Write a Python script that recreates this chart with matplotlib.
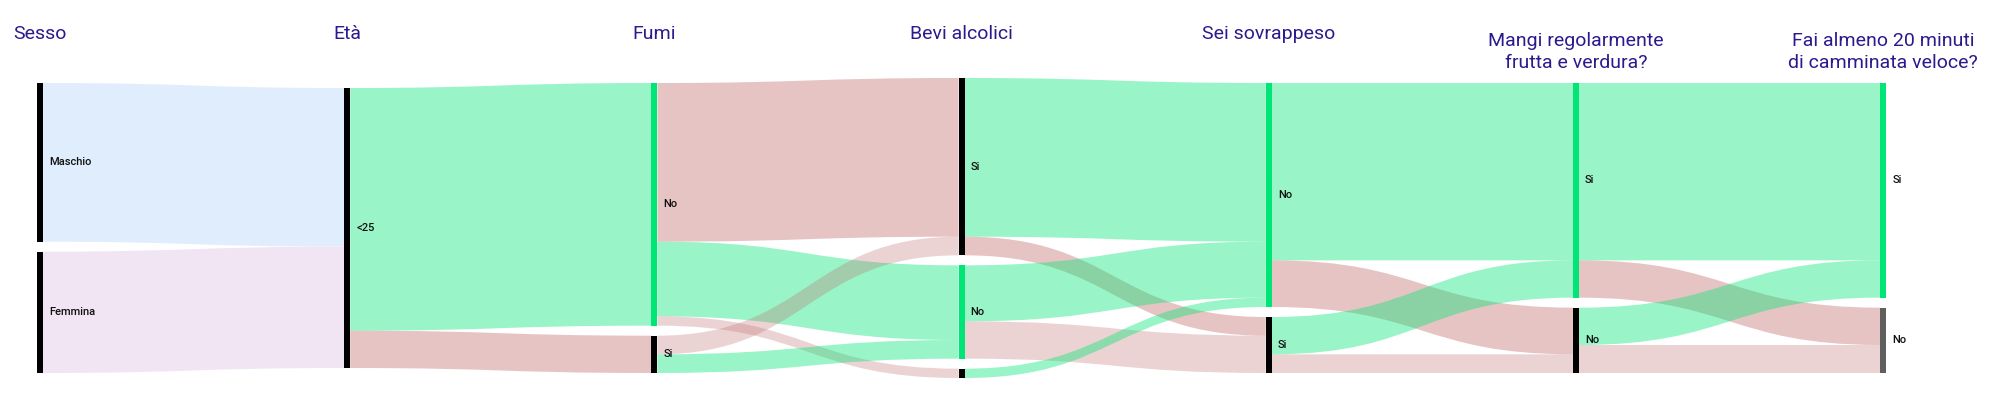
import numpy
from matplotlib import pyplot
from matplotlib.path import Path
from matplotlib.patches import PathPatch, Rectangle

# Column titles
titles = [
    "Sesso",
    "Età",
    "Fumi",
    "Bevi alcolici",
    "Sei sovrappeso",
    "Mangi regolarmente\nfrutta e verdura?",
    "Fai almeno 20 minuti\ndi camminata veloce?",
]

# Node labels for each column (top to bottom)
sesso = ["Maschio", "Femmina"]
eta = ["<25"]
fumi = ["No", "Si"]
bevi = ["Si", "No", ""]
sovrappeso = ["No", "Si"]
frutta = ["Si", "No"]
camminata = ["Si", "No"]
columns = [sesso, eta, fumi, bevi, sovrappeso, frutta, camminata]

# Node colours
node_colours = [
    ["black", "black"],
    ["black"],
    ["green", "black"],
    ["black", "green", "black"],
    ["green", "black"],
    ["green", "black"],
    ["green", "grey"],
]

# Flows between consecutive columns: rows = source nodes, cols = target nodes
sesso_eta = [[17], [13]]
eta_fumi = [[26, 4]]
fumi_bevi = [[17, 8, 1], [2, 2, 0]]
bevi_sovrappeso = [[17, 2], [6, 4], [1, 0]]
sovrappeso_frutta = [[19, 5], [4, 2]]
frutta_camminata = [[19, 4], [4, 3]]
flows = [sesso_eta, eta_fumi, fumi_bevi, bevi_sovrappeso, sovrappeso_frutta, frutta_camminata]

# Flow colour kinds, same shape as flows
sesso_eta_c = [["blue"], ["lilac"]]
eta_fumi_c = [["green", "red"]]
fumi_bevi_c = [["red", "green", "pink"], ["pink", "green", "pink"]]
bevi_sovrappeso_c = [["green", "red"], ["green", "pink"], ["green", "pink"]]
sovrappeso_frutta_c = [["green", "red"], ["green", "pink"]]
frutta_camminata_c = [["green", "red"], ["green", "pink"]]
flow_colours = [sesso_eta_c, eta_fumi_c, fumi_bevi_c, bevi_sovrappeso_c,
                sovrappeso_frutta_c, frutta_camminata_c]

palette = {
    "black": "#000000",
    "green": "#00e676",
    "grey": "#5f5f5f",
}
link_palette = {
    "blue": ("#e0edfc", 1.0),
    "lilac": ("#f1e5f4", 1.0),
    "green": ("#00e676", 0.40),
    "red": ("#be6464", 0.38),
    "pink": ("#be6464", 0.28),
}

title_colour = "#2a1a8e"
fonts = ["Liberation Sans Narrow", "Roboto", "DejaVu Sans"]

# Layout (pixels)
W, H = 2000, 403
x_first, x_step, bar_w = 37, 307.2, 6
y_mid, span, gap = 228, 280, 10
total = sum(sum(r) for r in sesso_eta)
scale = span / total
# labels of the last two "Si" nodes sit a little above centre in the original
label_dy = {(5, 0): -10, (6, 0): -10}

fig = pyplot.figure(figsize=(W / 100, H / 100), dpi=100)
ax = fig.add_axes([0, 0, 1, 1])
ax.set_xlim(0, W)
ax.set_ylim(H, 0)
ax.axis("off")

# Node sizes = max(inflow, outflow)
sizes = []
for c, col in enumerate(columns):
    s = numpy.zeros(len(col))
    if c > 0:
        s = numpy.maximum(s, numpy.array(flows[c - 1]).sum(axis=0))
    if c < len(flows):
        s = numpy.maximum(s, numpy.array(flows[c]).sum(axis=1))
    sizes.append(s)

# Node positions
tops = []
for s in sizes:
    height = s.sum() * scale + gap * (len(s) - 1)
    y = y_mid - height / 2
    t = []
    for v in s:
        t.append(y)
        y += v * scale + gap
    tops.append(t)

xs = [x_first + i * x_step for i in range(len(columns))]


def ribbon(x0, x1, a0, a1, b0, b1):
    xm = (x0 + x1) / 2
    verts = [(x0, a0), (xm, a0), (xm, b0), (x1, b0),
             (x1, b1), (xm, b1), (xm, a1), (x0, a1), (x0, a0)]
    codes = [Path.MOVETO, Path.CURVE4, Path.CURVE4, Path.CURVE4,
             Path.LINETO, Path.CURVE4, Path.CURVE4, Path.CURVE4, Path.CLOSEPOLY]
    return Path(verts, codes)


# Flows
for c, matrix in enumerate(flows):
    m = numpy.array(matrix)
    out_off = list(tops[c])
    in_off = list(tops[c + 1])
    x0 = xs[c] + bar_w
    x1 = xs[c + 1]
    for i in range(m.shape[0]):
        for j in range(m.shape[1]):
            v = m[i, j]
            if v == 0:
                continue
            h = v * scale
            colour, alpha = link_palette[flow_colours[c][i][j]]
            p = ribbon(x0, x1, out_off[i], out_off[i] + h, in_off[j], in_off[j] + h)
            ax.add_patch(PathPatch(p, facecolor=colour, alpha=alpha, lw=0))
            out_off[i] += h
            in_off[j] += h

# Nodes and labels
for c, col in enumerate(columns):
    for k, label in enumerate(col):
        h = sizes[c][k] * scale
        ax.add_patch(Rectangle((xs[c], tops[c][k]), bar_w, h,
                               facecolor=palette[node_colours[c][k]], lw=0, zorder=3))
        if label:
            y = tops[c][k] + h / 2 + label_dy.get((c, k), 0)
            ax.text(xs[c] + bar_w + 6, y, label, fontsize=8, fontweight="medium",
                    family=fonts, color="#111111", va="center", ha="left", zorder=4)

# Column titles
for c, t in enumerate(titles):
    y = 52 if "\n" in t else 34
    ax.text(xs[c] + bar_w / 2, y, t, fontsize=14, family=fonts, color=title_colour,
            ha="center", va="center", linespacing=1.3)

pyplot.savefig("out.png", dpi=100)
